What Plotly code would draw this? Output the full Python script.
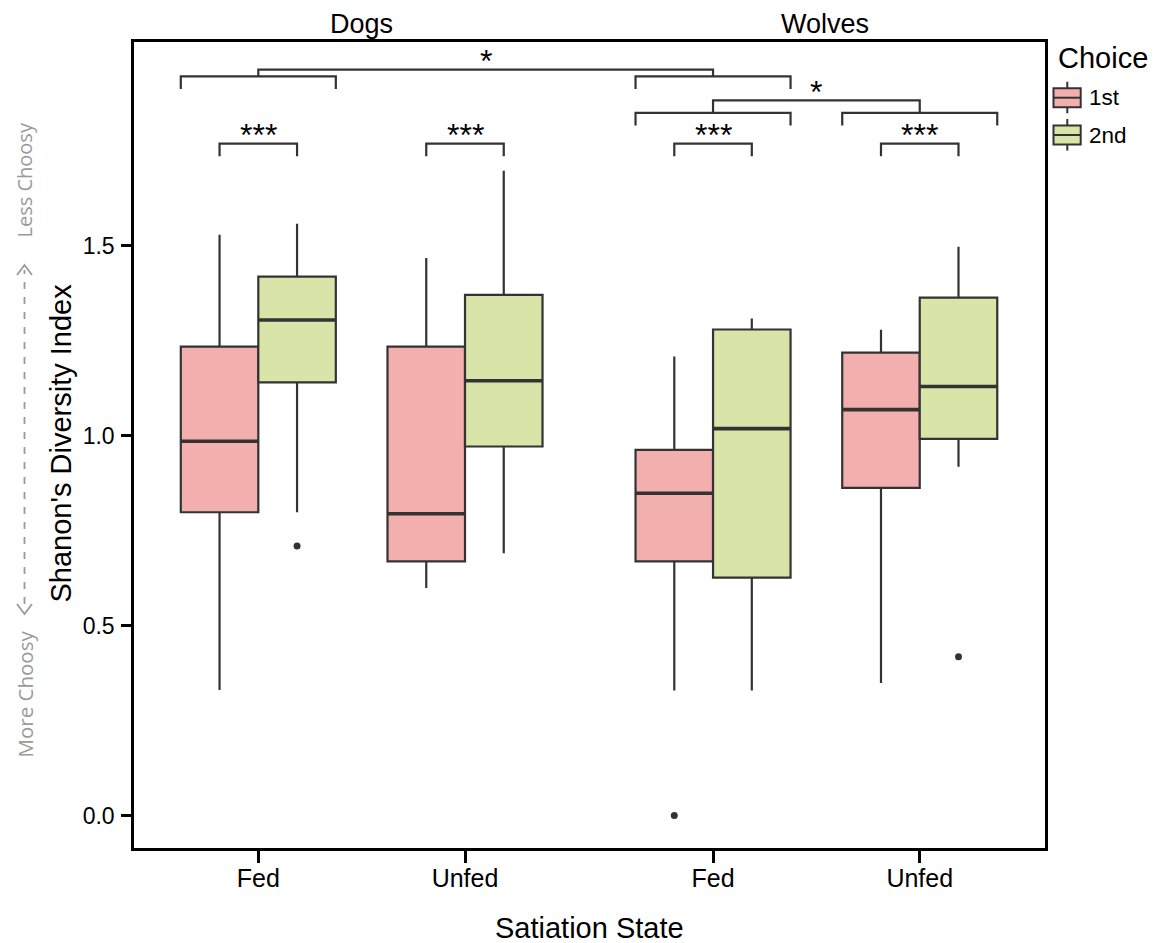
import plotly.graph_objects as go

# ---------------- data ----------------
states = ["Fed", "Unfed", "Fed", "Unfed"]
species = ["Dogs", "Wolves"]
choices = ["1st", "2nd"]

q1_1st = [0.798, 0.669, 0.669, 0.862]
med_1st = [0.985, 0.794, 0.848, 1.068]
q3_1st = [1.234, 1.234, 0.962, 1.218]
low_1st = [0.330, 0.599, 0.329, 0.349]
up_1st = [1.528, 1.467, 1.208, 1.278]

q1_2nd = [1.140, 0.971, 0.626, 0.991]
med_2nd = [1.304, 1.144, 1.018, 1.129]
q3_2nd = [1.418, 1.370, 1.279, 1.363]
low_2nd = [0.798, 0.690, 0.329, 0.918]
up_2nd = [1.557, 1.697, 1.308, 1.497]

out_1st_idx = [2]
out_1st_val = [0.0]
out_2nd_idx = [0, 3]
out_2nd_val = [0.709, 0.418]

within_sig = ["***", "***", "***", "***"]
between_sig = ["*", "*"]

y_ticks = [0.0, 0.5, 1.0, 1.5]

# ---------------- layout constants ----------------
OFF = 8  # browser body margin
W, H = 1165 - OFF, 943 - OFF
# plot area in page pixels
PL, PR, PT, PB = 134, 1045, 42, 848
pos = [1.0, 2.0, 3.2, 4.2]
BW = 0.375
off = {"1st": -BW / 2, "2nd": BW / 2}
fills = {"1st": "#F2AFAE", "2nd": "#D9E4A9"}
DARK = "#333333"
FONT = "Liberation Sans, Arial, sans-serif"
XR = [0.3986, 4.806]
YR = [-0.0855, 2.0355]


def PX(px):
    return (px - PL) / (PR - PL)


def PY(py):
    return (PB - py) / (PB - PT)


stats = {
    "1st": (q1_1st, med_1st, q3_1st, low_1st, up_1st),
    "2nd": (q1_2nd, med_2nd, q3_2nd, low_2nd, up_2nd),
}
outs = {"1st": (out_1st_idx, out_1st_val), "2nd": (out_2nd_idx, out_2nd_val)}

fig = go.Figure()

for c in choices:
    q1, md, q3, lo, up = stats[c]
    xs = [p + off[c] for p in pos]
    fig.add_trace(go.Box(
        x=xs, q1=q1, median=md, q3=q3, lowerfence=lo, upperfence=up,
        width=BW, fillcolor=fills[c], line=dict(color=DARK, width=2.2),
        whiskerwidth=0, boxpoints=False, name=c, showlegend=False,
        hoverinfo="skip",
    ))
    # thicker median lines
    mx, my = [], []
    for x, m in zip(xs, md):
        mx += [x - BW / 2, x + BW / 2, None]
        my += [m, m, None]
    fig.add_trace(go.Scatter(x=mx, y=my, mode="lines",
                             line=dict(color=DARK, width=3.6),
                             showlegend=False, hoverinfo="skip"))
    idx, vals = outs[c]
    fig.add_trace(go.Scatter(x=[xs[i] for i in idx], y=vals, mode="markers",
                             marker=dict(color=DARK, size=7),
                             showlegend=False, hoverinfo="skip"))

shapes = []
annotations = []
LW = 2.2


def bracket(x0, x1, y, drop):
    shapes.append(dict(type="path", xref="x", yref="y",
                       path=f"M {x0},{y - drop} L {x0},{y} L {x1},{y} L {x1},{y - drop}",
                       line=dict(color=DARK, width=LW)))


def star(x, y, text):
    annotations.append(dict(x=x, y=y, xref="x", yref="y", text=text,
                            showarrow=False, yanchor="middle", yshift=8.5,
                            font=dict(family=FONT, size=32, color="black")))


DROP = 0.033
Y_IN = 1.768
Y_PAIR = 1.945
Y_LINK = 1.963
Y_WPAIR = 1.849
Y_WLINK = 1.882

# within pair brackets
for p, s in zip(pos, within_sig):
    bracket(p - BW / 2, p + BW / 2, Y_IN, DROP)
    star(p, Y_IN, s)

# Dogs Fed vs Wolves Fed
bracket(pos[0] - BW, pos[0] + BW, Y_PAIR, DROP)
bracket(pos[2] - BW, pos[2] + BW, Y_PAIR, DROP)
bracket(pos[0], pos[2], Y_LINK, Y_LINK - Y_PAIR)
star((pos[0] + pos[2]) / 2, Y_LINK, between_sig[0])

# Wolves Fed vs Wolves Unfed
bracket(pos[2] - BW, pos[2] + BW, Y_WPAIR, DROP)
bracket(pos[3] - BW, pos[3] + BW, Y_WPAIR, DROP)
bracket(pos[2], pos[3], Y_WLINK, Y_WLINK - Y_WPAIR)
star((pos[2] + pos[3]) / 2, Y_WLINK, between_sig[1])

# species labels on top
for sp, xc in zip(species, [(pos[0] + pos[1]) / 2, (pos[2] + pos[3]) / 2 + 0.04]):
    annotations.append(dict(x=xc, y=PY(23.5), xref="x", yref="paper", text=sp,
                            showarrow=False, xanchor="center", yanchor="middle",
                            borderpad=0,
                            font=dict(family=FONT, size=27, color="black")))

# axis titles
annotations.append(dict(x=0.5, y=PY(928), xref="paper", yref="paper",
                        text="Satiation State", showarrow=False,
                        xanchor="center", yanchor="middle",
                        font=dict(family=FONT, size=29, color="black")))
annotations.append(dict(x=PX(60), y=PY(443.5), xref="paper", yref="paper",
                        text="Shanon's Diversity Index", showarrow=False,
                        textangle=-90, xanchor="center", yanchor="middle",
                        font=dict(family=FONT, size=29, color="black")))

# gray choosiness guide
GRAY = "#9A9A9A"
GFONT = "Open Sans, Lato, sans-serif"
annotations.append(dict(x=PX(24.5), y=PY(694), xref="paper", yref="paper",
                        text="More Choosy", showarrow=False, textangle=-90,
                        xanchor="center", yanchor="middle",
                        font=dict(family=GFONT, size=20.5, color=GRAY)))
annotations.append(dict(x=PX(24.5), y=PY(180), xref="paper", yref="paper",
                        text="Less Choosy", showarrow=False, textangle=-90,
                        xanchor="center", yanchor="middle",
                        font=dict(family=GFONT, size=20, color=GRAY)))
shapes.append(dict(type="line", xref="paper", yref="paper",
                   x0=PX(24.5), x1=PX(24.5), y0=PY(604), y1=PY(270),
                   line=dict(color=GRAY, width=1.8, dash="7px,8px")))
shapes.append(dict(type="path", xref="paper", yref="paper",
                   path=f"M {PX(17)},{PY(275)} L {PX(24.5)},{PY(265)} L {PX(32)},{PY(275)}",
                   line=dict(color=GRAY, width=1.8)))
shapes.append(dict(type="path", xref="paper", yref="paper",
                   path=f"M {PX(17)},{PY(604)} L {PX(24.5)},{PY(614)} L {PX(32)},{PY(604)}",
                   line=dict(color=GRAY, width=1.8)))

# manual legend
annotations.append(dict(x=PX(1056), y=PY(58), xref="paper", yref="paper",
                        text="Choice", showarrow=False, xanchor="left",
                        yanchor="middle",
                        font=dict(family=FONT, size=29, color="black")))
for i, c in enumerate(choices):
    cy = 97.7 + i * 37.3
    shapes.append(dict(type="line", xref="paper", yref="paper",
                       x0=PX(1067.3), x1=PX(1067.3), y0=PY(cy - 16), y1=PY(cy + 15.6),
                       line=dict(color=DARK, width=2)))
    shapes.append(dict(type="rect", xref="paper", yref="paper",
                       x0=PX(1053.5), x1=PX(1080.7), y0=PY(cy - 9.5), y1=PY(cy + 9.5),
                       fillcolor=fills[c], line=dict(color=DARK, width=2)))
    shapes.append(dict(type="line", xref="paper", yref="paper",
                       x0=PX(1053.5), x1=PX(1080.7), y0=PY(cy), y1=PY(cy),
                       line=dict(color=DARK, width=2)))
    annotations.append(dict(x=PX(1087), y=PY(cy), xref="paper", yref="paper",
                            text=c, showarrow=False, xanchor="left",
                            yanchor="middle",
                            font=dict(family=FONT, size=22.5, color="black")))

fig.update_layout(
    width=W, height=H,
    margin=dict(l=PL - OFF, r=W - (PR - OFF), t=PT - OFF, b=H - (PB - OFF),
                autoexpand=False),
    plot_bgcolor="white", paper_bgcolor="white",
    boxmode="overlay", showlegend=False,
    shapes=shapes, annotations=annotations,
    font=dict(family=FONT, color="black"),
)
fig.update_xaxes(
    range=XR, tickvals=pos, ticktext=states, showgrid=False, zeroline=False,
    showline=True, linecolor="black", linewidth=2.5, mirror=True,
    ticks="outside", ticklen=12, tickwidth=2.5, tickcolor="black",
    tickfont=dict(family=FONT, size=25, color="black"), automargin=False,
    ticklabelstandoff=-6,
)
fig.update_yaxes(
    range=YR, tickvals=y_ticks, ticktext=[f"{v:.1f}" for v in y_ticks],
    showgrid=False, zeroline=False,
    showline=True, linecolor="black", linewidth=2.5, mirror=True,
    ticks="outside", ticklen=10, tickwidth=2.5, tickcolor="black",
    tickfont=dict(family=FONT, size=23, color="black"), automargin=False,
    ticklabelstandoff=2,
)

fig.write_html("out.html")
